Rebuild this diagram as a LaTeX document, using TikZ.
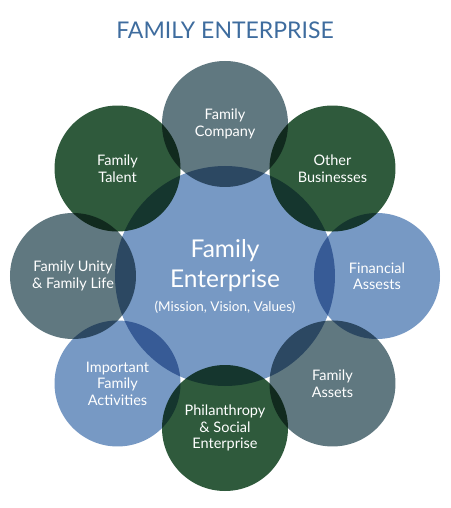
\documentclass[tikz,border=0pt]{standalone}
\usepackage{fontspec}
\setmainfont{Lato}
\usetikzlibrary{positioning}
\definecolor{slate}{HTML}{607880}
\definecolor{pine}{HTML}{2F5A3C}
\definecolor{sky}{HTML}{7799C4}
\definecolor{heading}{HTML}{3E6C9E}

\begin{document}
\begin{tikzpicture}[x=1pt,y=1pt,
            disc/.style = {circle,minimum size=126pt,inner sep=0pt},
            hubdisc/.style = {circle,minimum size=220pt,inner sep=0pt,
                fill=sky},
            txt/.style = {text=white,align=center,
                font=\fontsize{14.5}{16.5}\selectfont}]
            \useasboundingbox (-225,-232) rectangle (225,276);
            \node[text=heading,font=\fontsize{23}{26}\selectfont]
                (title) at (0,246) {FAMILY ENTERPRISE};
            % circles, multiplied where they overlap
            \begin{scope}[blend group=multiply]
                \node[hubdisc] (hub) at (0,0) {};
                \node[disc,fill=slate] (company) at (90:152) {};
                \node[disc,fill=pine] (other) at (45:152) {};
                \node[disc,fill=sky] (financial) at (0:152) {};
                \node[disc,fill=slate] (assets) at (-45:152) {};
                \node[disc,fill=pine] (philanthropy) at (-90:152) {};
                \node[disc,fill=sky] (activities) at (-135:152) {};
                \node[disc,fill=slate] (unity) at (180:152) {};
                \node[disc,fill=pine] (talent) at (135:152) {};
            \end{scope}
            \node[txt,font=\fontsize{24.5}{30}\selectfont] (hub-t) at (hub) {
                Family\\
                Enterprise\\[-6pt]
                {\fontsize{13.5}{16}\selectfont (Mission, Vision, Values)}
            };
            \node[txt] (company-t) at (company) {Family\\ Company};
            \node[txt] (other-t) at (other) {Other\\ Businesses};
            \node[txt] (financial-t) at (financial) {Financial\\ Assests};
            \node[txt] (assets-t) at (assets) {Family\\ Assets};
            \node[txt] (philanthropy-t) at (philanthropy)
                {Philanthropy\\ \& Social\\ Enterprise};
            \node[txt] (activities-t) at (activities)
                {Important\\ Family\\ Activities};
            \node[txt] (unity-t) at (unity) {Family Unity\\ \& Family Life};
            \node[txt] (talent-t) at (talent) {Family\\ Talent};
        \end{tikzpicture}
\end{document}
